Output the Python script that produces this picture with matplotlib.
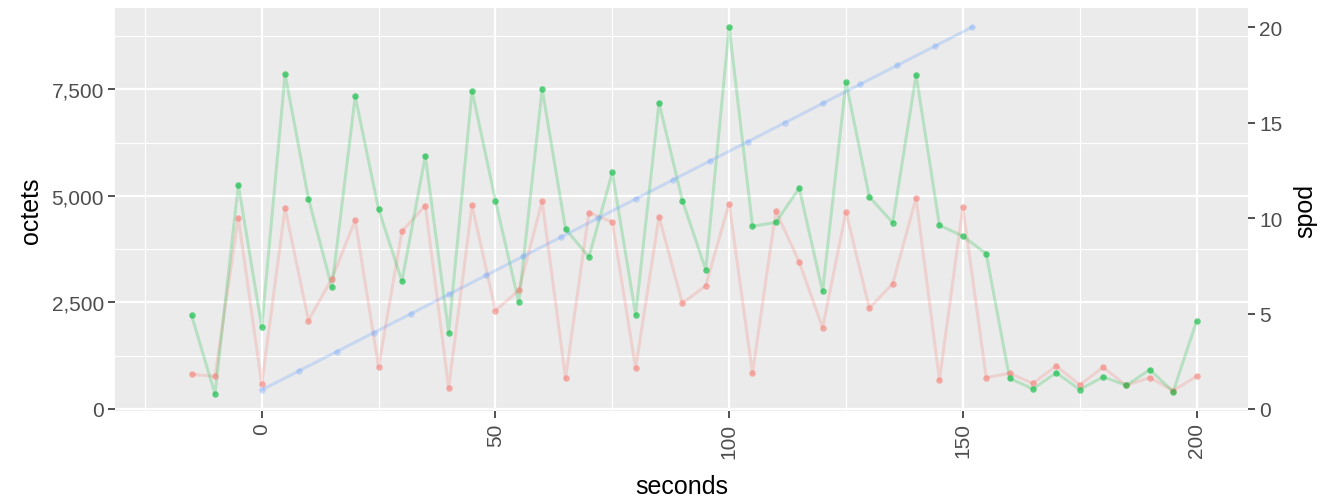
import matplotlib.pyplot as plt
import numpy as np

# series sampled every 5 seconds
seconds = [-15, -10, -5, 0, 5, 10, 15, 20, 25, 30, 35, 40, 45, 50, 55, 60, 65, 70,
           75, 80, 85, 90, 95, 100, 105, 110, 115, 120, 125, 130, 135, 140, 145,
           150, 155, 160, 165, 170, 175, 180, 185, 190, 195, 200]
octets_green = [2194, 353, 5258, 1919, 7853, 4937, 2852, 7336, 4686, 3000, 5939,
                1787, 7468, 4890, 2499, 7508, 4223, 3565, 5549, 2210, 7185, 4890,
                3268, 8965, 4286, 4380, 5180, 2758, 7672, 4975, 4373, 7837, 4310,
                4058, 3644, 720, 470, 853, 454, 752, 555, 924, 407, 2053]
octets_red = [814, 767, 4491, 579, 4710, 2076, 3057, 4428, 988, 4169, 4773, 494,
              4780, 2304, 2789, 4874, 720, 4608, 4388, 955, 4514, 2483, 2892, 4820,
              837, 4646, 3447, 1904, 4623, 2366, 2939, 4952, 673, 4733, 736, 837,
              602, 1011, 564, 978, 555, 736, 430, 767]

# spod series, sampled every 8 seconds
spod_seconds = [0, 8, 16, 24, 32, 40, 48, 56, 64, 72, 80, 88, 96, 104, 112, 120,
                128, 136, 144, 152]
spod = [1, 2, 3, 4, 5, 6, 7, 8, 9, 10, 11, 12, 13, 14, 15, 16, 17, 18, 19, 20]

SPOD_SCALE = 448  # octets per spod unit on the secondary axis

GREEN = "#00BA38"
RED = "#F8766D"
BLUE = "#619CFF"
TEXT = "#4D4D4D"

plt.rcParams["font.family"] = ["Liberation Sans", "DejaVu Sans"]

fig = plt.figure(figsize=(13.29, 5.02), dpi=100)
ax = fig.add_axes([0.0865, 0.1787, 0.8525, 0.8033])
ax.set_facecolor("#EBEBEB")
for s in ax.spines.values():
    s.set_visible(False)

ax.plot(seconds, octets_red, color=RED, alpha=0.22, lw=2.2, zorder=3)
ax.scatter(seconds, octets_red, color=RED, alpha=0.55, s=22, lw=0, zorder=4)
ax.plot(seconds, octets_green, color=GREEN, alpha=0.22, lw=2.2, zorder=3)
ax.scatter(seconds, octets_green, color=GREEN, alpha=0.6, s=22, lw=0, zorder=4)

ax.set_xlim(-31.4, 211)
ax.set_ylim(-54, 9407)
ax.set_xticks([0, 50, 100, 150, 200])
ax.set_xticks([-25, 25, 75, 125, 175], minor=True)
ax.set_yticks([0, 2500, 5000, 7500])
ax.set_yticks([1250, 3750, 6250, 8750], minor=True)
ax.set_yticklabels(["0", "2,500", "5,000", "7,500"])
ax.set_xticklabels(["0", "50", "100", "150", "200"], rotation=90, ha="center", va="top")
ax.grid(which="major", color="white", lw=1.6)
ax.grid(which="minor", color="white", lw=0.8)
ax.set_axisbelow(True)
ax.tick_params(which="major", length=5, width=1.2, color="#333333",
               labelsize=15, labelcolor=TEXT, pad=3)
ax.tick_params(which="minor", length=0)
ax.set_xlabel("seconds", fontsize=18, labelpad=12)
ax.set_ylabel("octets", fontsize=18, labelpad=6)

ax2 = ax.twinx()
for s in ax2.spines.values():
    s.set_visible(False)
ax2.plot(spod_seconds, spod, color=BLUE, alpha=0.25, lw=2.2, zorder=3)
ax2.scatter(spod_seconds, spod, color=BLUE, alpha=0.3, s=22, lw=0, zorder=4)
ax2.set_ylim(-54 / SPOD_SCALE, 9407 / SPOD_SCALE)
ax2.set_yticks([0, 5, 10, 15, 20])
ax2.tick_params(length=5, width=1.2, color="#333333", labelsize=15,
                labelcolor=TEXT, pad=3)
ax2.set_ylabel("spod", fontsize=18, rotation=90, labelpad=8)

fig.savefig("out.png", dpi=100)
